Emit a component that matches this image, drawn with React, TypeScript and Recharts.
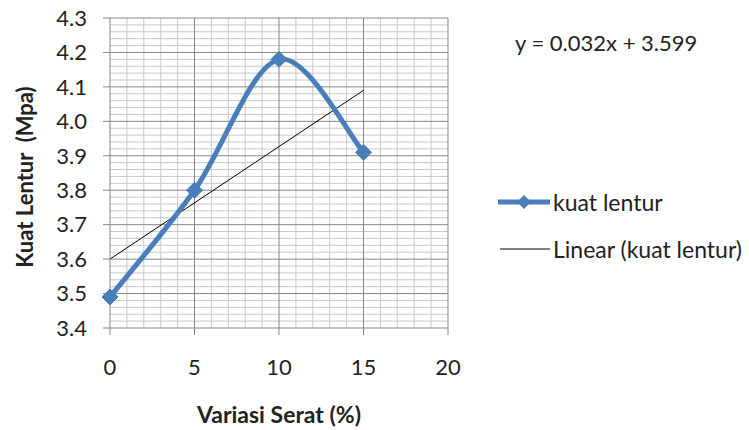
import React from "react";
import {
  LineChart,
  Line,
  XAxis,
  YAxis,
  ReferenceLine,
} from "recharts";

// measured data (Variasi Serat % vs Kuat Lentur Mpa)
const fiberPct = [0, 5, 10, 15];
const strength = [3.49, 3.8, 4.18, 3.91];

// linear trend line endpoints
const trendX = [0, 15];
const trendY = [3.6, 4.09];

const xTicks = [0, 5, 10, 15, 20];
const yTicks = [3.4, 3.5, 3.6, 3.7, 3.8, 3.9, 4.0, 4.1, 4.2, 4.3];

const FONT = "Lato, 'Open Sans', sans-serif";
const BLUE = "#4a7ebb";
const MAJOR = "#878787";
const MINOR = "#c8c8c8";

const data = fiberPct.map((x, i) => ({ x, y: strength[i] }));
const trendData = trendX.map((x, i) => ({ x, y: trendY[i] }));

// minor grid positions
const minorX: number[] = [];
for (let i = 0; i <= 20; i++) if (i % 5 !== 0) minorX.push(i);
const minorY: number[] = [];
for (let i = 0; i <= 45; i++) if (i % 5 !== 0) minorY.push(+(3.4 + i * 0.02).toFixed(2));

// Excel-style smoothed line (Catmull-Rom as cubic bezier)
function excelSmooth(context: any) {
  let pts: number[][] = [];
  return {
    areaStart() {},
    areaEnd() {},
    lineStart() {
      pts = [];
    },
    point(x: number, y: number) {
      pts.push([+x, +y]);
    },
    lineEnd() {
      if (!pts.length) return;
      context.moveTo(pts[0][0], pts[0][1]);
      for (let i = 0; i < pts.length - 1; i++) {
        const p0 = pts[i - 1] || pts[i];
        const p1 = pts[i];
        const p2 = pts[i + 1];
        const p3 = pts[i + 2] || p2;
        context.bezierCurveTo(
          p1[0] + (p2[0] - p0[0]) / 6,
          p1[1] + (p2[1] - p0[1]) / 6,
          p2[0] - (p3[0] - p1[0]) / 6,
          p2[1] - (p3[1] - p1[1]) / 6,
          p2[0],
          p2[1]
        );
      }
    },
  };
}

const Diamond = (props: any) => {
  const { cx, cy } = props;
  if (cx == null || cy == null) return <g />;
  const r = 8;
  return (
    <path
      d={`M${cx},${cy - r}L${cx + r},${cy}L${cx},${cy + r}L${cx - r},${cy}Z`}
      fill={BLUE}
      stroke={BLUE}
    />
  );
};

const LegendBox = () => (
  <div style={{ fontFamily: FONT, fontSize: 23, color: "#222" }}>
    <div style={{ display: "flex", alignItems: "center", height: 30 }}>
      <svg width={54} height={20}>
        <line x1={0} y1={10} x2={52} y2={10} stroke={BLUE} strokeWidth={5} />
        <path d="M26,3L33,10L26,17L19,10Z" fill={BLUE} />
      </svg>
      <span style={{ marginLeft: 1 }}>kuat lentur</span>
    </div>
    <div style={{ display: "flex", alignItems: "center", height: 30, marginTop: 17 }}>
      <svg width={54} height={20}>
        <line x1={2} y1={10} x2={52} y2={10} stroke="#000" strokeWidth={1} />
      </svg>
      <span style={{ marginLeft: 1 }}>Linear (kuat lentur)</span>
    </div>
  </div>
);

export default function App() {
  return (
    <div
      style={{
        position: "absolute",
        left: 0,
        top: 0,
        width: 749,
        height: 430,
        background: "#fff",
        fontFamily: FONT,
        overflow: "hidden",
      }}
    >
      <LineChart
        width={749}
        height={430}
        margin={{ top: 18, right: 301, left: 0, bottom: 62 }}
      >
        {minorX.map((v) => (
          <ReferenceLine key={"mx" + v} x={v} stroke={MINOR} strokeWidth={1} />
        ))}
        {minorY.map((v) => (
          <ReferenceLine key={"my" + v} y={v} stroke={MINOR} strokeWidth={1} />
        ))}
        {xTicks.slice(1).map((v) => (
          <ReferenceLine key={"Mx" + v} x={v} stroke={MAJOR} strokeWidth={1} />
        ))}
        {yTicks.slice(1).map((v) => (
          <ReferenceLine key={"My" + v} y={v} stroke={MAJOR} strokeWidth={1} />
        ))}
        <XAxis
          dataKey="x"
          type="number"
          domain={[0, 20]}
          ticks={xTicks}
          interval={0}
          allowDuplicatedCategory={false}
          height={40}
          stroke={MAJOR}
          tickSize={7}
          tick={{ fill: "#222", fontSize: 22, fontFamily: FONT, dy: 22 }}
          label={(p: any) => {
            const vb = p.viewBox;
            return (
              <text
                x={vb.x + vb.width / 2}
                y={vb.y + 95}
                textAnchor="middle"
                fontFamily={FONT}
                fontSize={23}
                fontWeight="bold"
                fill="#222"
              >
                Variasi Serat (%)
              </text>
            );
          }}
        />
        <YAxis
          type="number"
          domain={[3.4, 4.3]}
          ticks={yTicks}
          interval={0}
          width={110}
          stroke={MAJOR}
          tickSize={7}
          tickFormatter={(v: number) => v.toFixed(1)}
          tick={{ fill: "#222", fontSize: 22, fontFamily: FONT, dx: -14 }}
          label={(p: any) => {
            const vb = p.viewBox;
            const cx = 24;
            const cy = vb.y + vb.height / 2 + 4;
            return (
              <text
                x={cx}
                y={cy}
                transform={`rotate(-90 ${cx} ${cy})`}
                textAnchor="middle"
                dominantBaseline="central"
                fontFamily={FONT}
                fontSize={22}
                fontWeight="bold"
                fill="#222"
                style={{ whiteSpace: "pre" }}
              >
                {"Kuat Lentur  (Mpa)"}
              </text>
            );
          }}
        />
        <Line
          data={trendData}
          dataKey="y"
          type="linear"
          stroke="#000"
          strokeWidth={1}
          dot={false}
          activeDot={false}
          legendType="none"
          name="Linear (kuat lentur)"
          isAnimationActive={false}
        />
        <Line
          data={data}
          dataKey="y"
          type={excelSmooth as any}
          stroke={BLUE}
          strokeWidth={5}
          dot={<Diamond />}
          activeDot={false}
          name="kuat lentur"
          isAnimationActive={false}
        />
      </LineChart>
      <div style={{ position: "absolute", left: 498, top: 187, width: 260 }}>
        <LegendBox />
      </div>
      <div
        style={{
          position: "absolute",
          left: 515,
          top: 29,
          fontSize: 22,
          color: "#222",
          fontFamily: FONT,
          whiteSpace: "pre",
        }}
      >
        y = 0.032x + 3.599
      </div>
    </div>
  );
}
